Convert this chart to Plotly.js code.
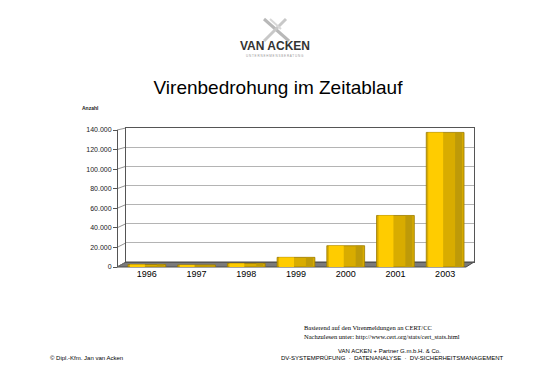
<!DOCTYPE html>
<html><head><meta charset="utf-8">
<script src="https://cdn.plot.ly/plotly-3.0.1.min.js"></script>
<style>html,body{margin:0;padding:0;background:#fff}#c{width:547px;height:387px}</style>
</head><body><div id="c"></div>
<script>
const years = ['1996','1997','1998','1999','2000','2001','2003'];
const incidents = [2573, 2134, 3734, 9859, 21756, 52658, 137529];
const yTicks = [0, 20000, 40000, 60000, 80000, 100000, 120000, 140000];

// pixel geometry helpers
const L = 117, R = 474, T = 128, B = 267, W = R - L, H = B - T;
const px = x => (x - L) / W;
const py = y => (B - y) / H;

const base = {type:'bar', x: years, y: incidents, xaxis:'x2', yaxis:'y2', hoverinfo:'skip', showlegend:false};
const traces = [
  // invisible trace so the back-wall axes (gridlines, frame) are drawn
  {type:'scatter', x:[0], y:[0], xaxis:'x', yaxis:'y', mode:'markers', marker:{opacity:0}, hoverinfo:'skip', showlegend:false},
  Object.assign({}, base, {width:0.76, offset:-0.38, marker:{color:'#D8AC00', line:{color:'#9A7A00', width:0.8}}}),
  Object.assign({}, base, {width:0.30, offset:-0.34, marker:{color:'#FFCC00', line:{width:0}}}),
  Object.assign({}, base, {width:0.14, offset:0.20, marker:{color:'#BE9A08', line:{width:0}}})
];

const shapes = [];
// floor
shapes.push({type:'path', xref:'paper', yref:'paper', layer:'below',
  path:`M ${px(117)} ${py(267)} L ${px(466)} ${py(267)} L ${px(474)} ${py(262)} L ${px(126)} ${py(262)} Z`,
  fillcolor:'#7a7a7a', line:{color:'#4a4a4a', width:1}});
// perspective tick connectors
yTicks.forEach(v => {
  const yf = 267 - v * 137 / 140000, yb = 262 - v * 134 / 140000;
  shapes.push({type:'line', xref:'paper', yref:'paper', layer:'below',
    x0: px(117), y0: py(yf), x1: px(126), y1: py(yb), line:{color:'#777', width:0.8}});
});
// logo X
shapes.push({type:'line', xref:'paper', yref:'paper', x0:px(264), y0:py(19), x1:px(289), y1:py(41), line:{color:'#b8b8b8', width:3}});
shapes.push({type:'line', xref:'paper', yref:'paper', x0:px(286), y0:py(19), x1:px(264), y1:py(41), line:{color:'#c8c8c8', width:3}});
shapes.push({type:'line', xref:'paper', yref:'paper', x0:px(270), y0:py(19), x1:px(281), y1:py(29), line:{color:'#d8d8d8', width:2}});

const ann = (x, y, text, size, opts) => Object.assign({xref:'paper', yref:'paper', x:px(x), y:py(y), text,
  showarrow:false, xanchor:'center', yanchor:'middle', font:{family:'Arial, Liberation Sans, sans-serif', size, color:'#000'}}, opts || {});

const annotations = [
  ann(275, 46, '<b>VAN ACKEN</b>', 12, {font:{family:'Liberation Sans Narrow, Arial Narrow, Arial, sans-serif', size:12, color:'#333'}}),
  ann(275, 56, 'U N T E R N E H M E N S B E R A T U N G', 3, {font:{family:'Arial, sans-serif', size:3, color:'#999'}}),
  ann(90, 108, '<b>Anzahl</b>', 5, {font:{family:'Arial, sans-serif', size:5, color:'#222'}}),
  ann(302, 327, 'Basierend auf den Virenmeldungen an CERT/CC', 6, {xanchor:'left', font:{family:'Liberation Serif, Times New Roman, serif', size:6.5, color:'#000'}}),
  ann(302, 336, 'Nachzulesen unter: http://www.cert.org/stats/cert_stats.html', 6, {xanchor:'left', font:{family:'Liberation Serif, Times New Roman, serif', size:6.5, color:'#000'}}),
  ann(389, 351, 'VAN ACKEN + Partner G.m.b.H. &amp; Co.', 6, {font:{family:'Arial, sans-serif', size:6, color:'#000'}}),
  ann(392, 358, 'DV-SYSTEMPRÜFUNG  ·  DATENANALYSE  ·  DV-SICHERHEITSMANAGEMENT', 6, {font:{family:'Arial, sans-serif', size:6, color:'#000'}}),
  ann(86, 358, '© Dipl.-Kfm. Jan van Acken', 6, {font:{family:'Arial, sans-serif', size:6, color:'#000'}})
];

const layout = {
  width:547, height:387,
  margin:{l:L, r:547-R, t:T, b:387-B, pad:0},
  paper_bgcolor:'#fff', plot_bgcolor:'rgba(0,0,0,0)',
  separators:',.',
  barmode:'overlay',
  showlegend:false,
  title:{text:'Virenbedrohung im Zeitablauf', x:278/547, xanchor:'center', xref:'container', y:1-87/387, yref:'container', yanchor:'middle',
    font:{family:'Arial, Liberation Sans, sans-serif', size:19, color:'#000'}},
  xaxis:{domain:[px(126),1], range:[0,1], showgrid:false, zeroline:false, showticklabels:false, ticks:'',
    showline:true, mirror:true, linecolor:'#555', linewidth:1, fixedrange:true},
  yaxis:{domain:[py(262),1], range:[0,140000], tickvals:yTicks, showgrid:true, gridcolor:'#b4b4b4', gridwidth:1,
    zeroline:false, showticklabels:false, ticks:'', showline:true, mirror:true, linecolor:'#555', linewidth:1, fixedrange:true},
  xaxis2:{domain:[px(122), px(470)], anchor:'y2', type:'category', showgrid:false, zeroline:false, showline:false,
    ticks:'', tickfont:{family:'Arial, sans-serif', size:9, color:'#000'}, fixedrange:true},
  yaxis2:{domain:[0, py(130)], range:[0,140000], anchor:'free', position:0, tickvals:yTicks, tickformat:',d',
    showgrid:false, zeroline:false, showline:true, linecolor:'#555', linewidth:1, ticks:'outside', ticklen:4, tickcolor:'#555',
    tickfont:{family:'Arial, sans-serif', size:7, color:'#222'}, fixedrange:true},
  shapes, annotations
};

Plotly.newPlot('c', traces, layout, {staticPlot:true, displayModeBar:false});
</script></body></html>
